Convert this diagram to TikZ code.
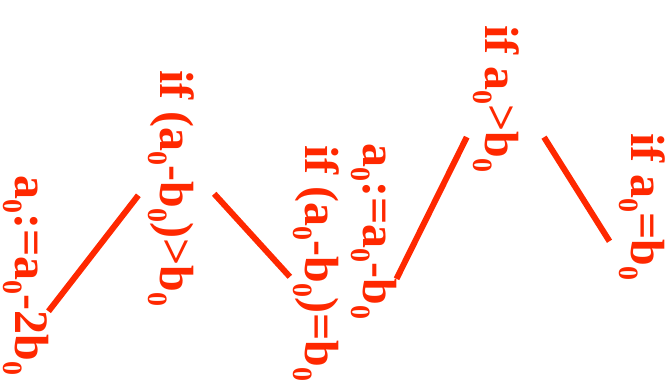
\documentclass[tikz,border=0pt]{standalone}
\usepackage{fontspec}
\setmainfont{Liberation Serif}
\usepackage{tikz}
\usetikzlibrary{calc}
\definecolor{ored}{RGB}{255,40,0}
\newcommand{\sbs}[1]{\raisebox{-12pt}{\fontsize{28}{28}\selectfont #1}}

\begin{document}
\begin{tikzpicture}[
  x=1pt, y=1pt,
  lbl/.style={rotate=-90, anchor=base west, inner sep=0pt, text=ored,
              font=\fontsize{48}{58}\bfseries\selectfont},
  link/.style={line width=6pt, ored},
]
\useasboundingbox (0,0) rectangle (672,388);

%% Left tree
\node[lbl] (subtwo) at (15,213) {a\sbs{0}:=a\sbs{0}-2b\sbs{0}};
\node[lbl] (ifgt) at (160,318) {if (a\sbs{0}-b\sbs{0})>b\sbs{0}};
\node[lbl] (ifeqa) at (305,243) {if (a\sbs{0}-b\sbs{0})=b\sbs{0}};

%% Right tree
\node[lbl] (subone) at (363,245) {a\sbs{0}:=a\sbs{0}-b\sbs{0}};
\node[lbl] (ifagt) at (485,363) {if a\sbs{0}>b\sbs{0}};
\node[lbl] (ifaeq) at (631,255) {if a\sbs{0}=b\sbs{0}};

%% Branches
\draw[link, shorten <=15pt] ($(ifgt.south west)!0.48!(ifgt.south east)$) -- ($(subtwo.north west)!0.68!(subtwo.north east)$);
\draw[link, shorten <=30pt, shorten >=4pt] ($(ifgt.north west)!0.43!(ifgt.north east)$) -- ($(ifeqa.south west)!0.57!(ifeqa.south east)$);
\draw[link, shorten <=13pt] ($(ifagt.south west)!0.68!(ifagt.south east)$) -- ($(subone.north west)!0.77!(subone.north east)$);
\draw[link, shorten <=47pt, shorten >=17pt] ($(ifagt.north west)!0.49!(ifagt.north east)$) -- ($(ifaeq.south west)!0.83!(ifaeq.south east)$);

\end{tikzpicture}
\end{document}
